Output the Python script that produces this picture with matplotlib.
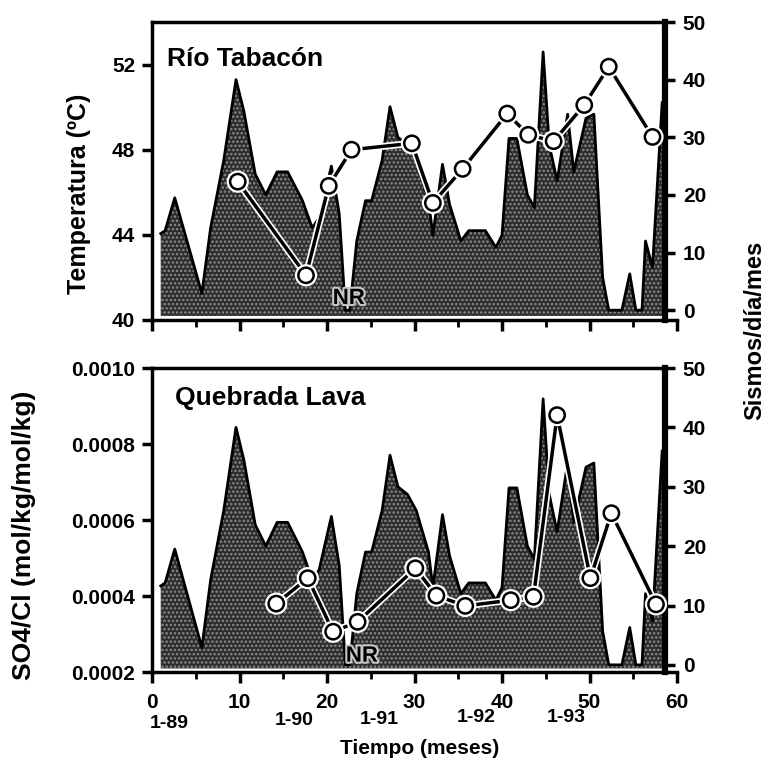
import numpy as np
import matplotlib
matplotlib.use('Agg')
import matplotlib.pyplot as plt
import matplotlib.patheffects as pe
from matplotlib.ticker import MultipleLocator

plt.rcParams['font.family'] = ['Liberation Sans', 'DejaVu Sans']
plt.rcParams['font.weight'] = 'bold'
plt.rcParams['hatch.linewidth'] = 1.2

# sismos/dia/mes (same series in both panels)
sis_mes = [1.0, 1.5, 2.6, 5.7, 6.7, 8.2, 9.6, 10.5, 11.8, 13.0, 14.3, 15.5, 17.2, 18.3,
           19.1, 20.5, 21.4, 22.1, 22.6, 23.4, 24.4, 25.1, 26.3, 27.2, 28.1, 29.2, 30.2,
           31.6, 32.1, 33.2, 34.0, 35.3, 36.2, 38.1, 39.3, 40.0, 40.8, 41.7, 42.9, 43.7,
           44.7, 45.4, 46.3, 47.5, 48.2, 49.6, 50.5, 51.5, 52.2, 53.7, 54.6, 55.3, 56.0,
           56.4, 57.2, 58.3]
sismos = [13.3, 13.8, 19.5, 2.9, 14.3, 26, 40, 34.5, 23.6, 20, 24, 24, 19, 14.3,
          16, 25, 16.7, 0, 0, 12, 19, 19, 26, 35.3, 30, 28.7, 26,
          19, 13, 25.3, 18.4, 12, 13.8, 13.8, 10.9, 13, 29.8, 29.8, 20, 17.8,
          44.8, 28.7, 22.4, 34, 24, 33.3, 34, 5.7, 0, 0, 6.3, 0, 0,
          12, 7.4, 36]

# Rio Tabacon temperature
temp_mes = [9.8, 17.6, 20.2, 22.8, 29.7, 32.1, 35.5, 40.6, 43.0, 45.9, 49.4, 52.2, 57.2]
temp = [46.5, 42.1, 46.3, 48.0, 48.3, 45.5, 47.1, 49.7, 48.7, 48.4, 50.1, 51.9, 48.6]

# Quebrada Lava SO4/Cl
so4_mes = [14.2, 17.8, 20.7, 23.5, 30.1, 32.5, 35.8, 41.0, 43.6, 46.3, 50.1, 52.5, 57.6]
so4cl = [0.00038, 0.000447, 0.000306, 0.000332, 0.000473, 0.000401, 0.000374,
         0.000389, 0.000398, 0.000876, 0.000447, 0.000618, 0.000378]

fechas = ['1-89', '1-90', '1-91', '1-92', '1-93']
fecha_x = [2.0, 16.2, 26.0, 37.0, 47.3]
fecha_y = [-0.168, -0.158, -0.155, -0.15, -0.15]

W, H = 775, 765
fig = plt.figure(figsize=(W/100, H/100), dpi=100)
xr = 58.6


def panel(rect, x, y, ylim, ylim2, base, yticks, yfmt, title, tpos, nr_pos):
    ax = fig.add_axes(rect)
    ax2 = ax.twinx()
    ax.set_zorder(ax2.get_zorder() + 1)
    ax.patch.set_visible(False)

    ax2.fill_between(sis_mes, base, sismos, facecolor='#2c2c2c', edgecolor='#8c8c8c',
                     hatch='....', linewidth=0)
    ax2.plot(sis_mes, sismos, color='black', lw=2)
    ax2.text(nr_pos[0], nr_pos[1], 'NR', ha='center', va='bottom', fontsize=16,
             color='black', path_effects=[pe.withStroke(linewidth=3, foreground='#c8c8c8')])

    ax.plot(x, y, color='black', lw=2.5, marker='o', ms=11, mfc='white', mec='black',
            mew=1.8, path_effects=[pe.Stroke(linewidth=5, foreground='white'), pe.Normal()])

    ax.set_xlim(0, 60)
    ax.set_ylim(*ylim)
    ax2.set_ylim(*ylim2)
    ax.set_yticks(yticks)
    ax.set_yticklabels([yfmt(v) for v in yticks])
    ax2.set_yticks([0, 10, 20, 30, 40, 50])
    ax.xaxis.set_major_locator(MultipleLocator(10))
    ax.xaxis.set_minor_locator(MultipleLocator(5))

    for s in ['top', 'left', 'bottom', 'right']:
        ax2.spines[s].set_visible(s == 'right')
    ax.spines['right'].set_visible(False)
    ax2.spines['right'].set_position(('data', xr))
    ax2.spines['right'].set_linewidth(4.5)
    ax.spines['top'].set_bounds(0, xr)
    for s in ['top', 'left', 'bottom']:
        ax.spines[s].set_linewidth(2.5)

    ax.tick_params(axis='y', direction='out', length=7, width=2.5, labelsize=15, pad=5)
    ax2.tick_params(axis='y', direction='out', length=7, width=2.5, labelsize=15, pad=6)
    ax.tick_params(axis='x', which='major', direction='out', length=8, width=2.5,
                   labelsize=15, pad=7)
    ax.tick_params(axis='x', which='minor', direction='out', length=5, width=2)
    ax.text(tpos[0], tpos[1], title, transform=ax.transAxes, fontsize=19,
            ha='left', va='baseline')
    return ax, ax2


top, top2 = panel([152/W, 1 - 320/H, 525/W, 298/H], temp_mes, temp, (40, 54), (-1.7, 49.7),
                  -1.0, [40, 44, 48, 52], lambda v: f'{v:d}', 'Río Tabacón',
                  (0.029, 0.852), (22.5, 0.2))
top.tick_params(axis='x', labelbottom=False)

bot, bot2 = panel([152/W, 1 - 672/H, 525/W, 304/H], so4_mes, so4cl, (0.0002, 0.0010),
                  (-1.2, 49.5), -0.6, [0.0002, 0.0004, 0.0006, 0.0008, 0.0010],
                  lambda v: f'{v:.4f}', 'Quebrada Lava', (0.044, 0.878), (24.0, -0.3))

for lab, xp, yp in zip(fechas, fecha_x, fecha_y):
    bot.text(xp, yp, lab, transform=bot.get_xaxis_transform(), ha='center', va='center',
             fontsize=14)

fig.text(420/W, 1 - 748/H, 'Tiempo (meses)', ha='center', va='center', fontsize=15)
fig.text(79/W, 1 - 194/H, 'Temperatura (ºC)', rotation=90, ha='center', va='center',
         fontsize=18)
fig.text(24/W, 1 - 535/H, 'SO4/Cl (mol/kg/mol/kg)', rotation=90, ha='center',
         va='center', fontsize=19)
fig.text(755/W, 1 - 330/H, 'Sismos/día/mes', rotation=90, ha='center', va='center',
         fontsize=17)

fig.savefig('out.png', dpi=100)
